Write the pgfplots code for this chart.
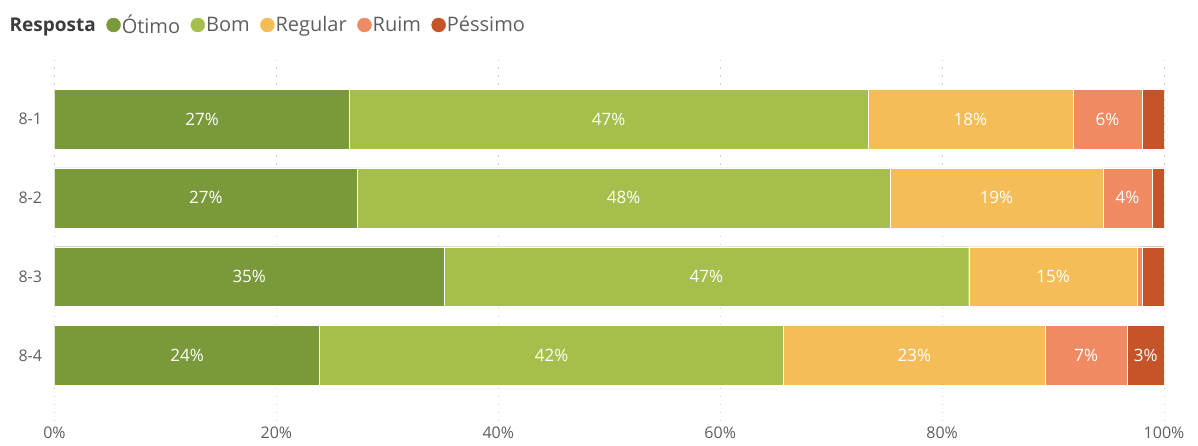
\documentclass[border=0pt]{standalone}
\usepackage{pgfplots}
\pgfplotsset{compat=1.18}
\usepackage{pgfplotstable}
\usepackage{fontspec}
\setmainfont{Open Sans}
\definecolor{cOt}{RGB}{122,153,59}
\definecolor{cBo}{RGB}{165,190,76}
\definecolor{cRe}{RGB}{244,189,88}
\definecolor{cRu}{RGB}{240,138,98}
\definecolor{cPe}{RGB}{197,85,40}
\definecolor{txt}{RGB}{96,94,92}
\definecolor{ttl}{RGB}{60,60,60}
\definecolor{grd}{RGB}{205,205,205}

\pgfplotstableread{
y w lab
4 26.6 27\%
3 27.3 27\%
2 35.1 35\%
1 23.9 24\%
}\otimo
\pgfplotstableread{
y w lab
4 46.7 47\%
3 48.0 48\%
2 47.3 47\%
1 41.8 42\%
}\bom
\pgfplotstableread{
y w lab
4 18.5 18\%
3 19.2 19\%
2 15.2 15\%
1 23.6 23\%
}\regular
\pgfplotstableread{
y w lab
4 6.2 6\%
3 4.4 4\%
2 0.4 \relax
1 7.4 7\%
}\ruim
\pgfplotstableread{
y w lab
4 2.0 \relax
3 1.1 \relax
2 2.0 \relax
1 3.3 3\%
}\pessimo

\newcommand{\fs}{\fontsize{17}{20}\selectfont}
\newcommand{\fst}{\fontsize{16}{19}\selectfont}
\newcommand{\fsl}{\fontsize{20}{24}\selectfont}

\begin{document}
\begin{tikzpicture}
\begin{axis}[
  at={(0,0)}, anchor=south west,
  scale only axis, width=1109.5pt, height=361pt,
  xbar stacked, bar width=0.76,
  xmin=0, xmax=100, ymin=0.169, ymax=4.749,
  xtick={0,20,40,60,80,100},
  xticklabel={\pgfmathprintnumber{\tick}\%},
  ytick={1,2,3,4}, yticklabels={8-4,8-3,8-2,8-1},
  xmajorgrids,
  grid style={grd, line width=1pt, dash pattern=on 1.5pt off 6.5pt},
  axis line style={draw=none}, major tick style={draw=none},
  tick label style={font=\fst, text=txt},
  xticklabel style={yshift=-2pt},
  yticklabel style={xshift=-9pt},
  /pgf/number format/assume math mode=true,
  point meta=explicit symbolic,
  nodes near coords,
  nodes near coords style={font=\fs, text=white, anchor=center},
  legend style={draw=none, fill=none, font=\fsl, text=txt,
    at={(0,1)}, anchor=west, xshift=-46pt, yshift=35pt,
    legend columns=-1, inner sep=0pt,
    /tikz/every even column/.append style={column sep=9.5pt},
    nodes={inner sep=1pt}},
  legend cell align=left,
]
\addlegendimage{empty legend}
\addlegendentry{\textcolor{ttl}{\fontsize{19}{23}\selectfont\bfseries Resposta}}

\addplot[fill=cOt, draw=white, line width=0.4pt,
  every node near coord/.append style={anchor=center},
  legend image code/.code={\fill[cOt] (7pt,0) circle (7pt);}]
  table[x=w, y=y, meta=lab] {\otimo};
\addlegendentry{Ótimo}

\addplot[fill=cBo, draw=white, line width=0.4pt,
  every node near coord/.append style={anchor=center},
  legend image code/.code={\fill[cBo] (7pt,0) circle (7pt);}]
  table[x=w, y=y, meta=lab] {\bom};
\addlegendentry{Bom}

\addplot[fill=cRe, draw=white, line width=0.4pt,
  every node near coord/.append style={anchor=center},
  legend image code/.code={\fill[cRe] (7pt,0) circle (7pt);}]
  table[x=w, y=y, meta=lab] {\regular};
\addlegendentry{Regular}

\addplot[fill=cRu, draw=white, line width=0.4pt,
  every node near coord/.append style={anchor=center},
  legend image code/.code={\fill[cRu] (7pt,0) circle (7pt);}]
  table[x=w, y=y, meta=lab] {\ruim};
\addlegendentry{Ruim}

\addplot[fill=cPe, draw=white, line width=0.4pt,
  every node near coord/.append style={anchor=center},
  legend image code/.code={\fill[cPe] (7pt,0) circle (7pt);}]
  table[x=w, y=y, meta=lab] {\pessimo};
\addlegendentry{Péssimo}
\end{axis}
\pgfresetboundingbox
\path (-54.5pt,-24pt) rectangle (1143.5pt,421pt);
\end{tikzpicture}
\end{document}
